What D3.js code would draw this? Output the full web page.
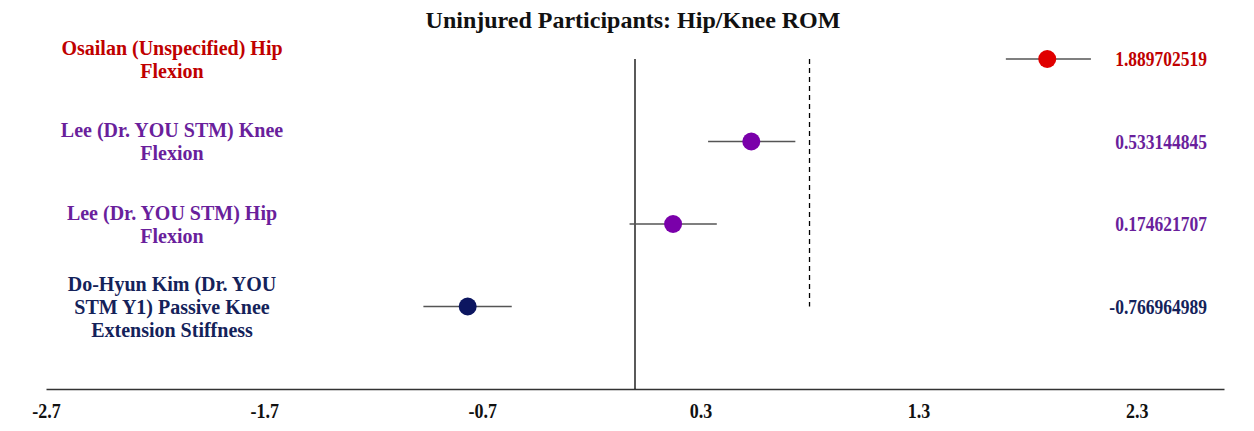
<!DOCTYPE html>
<html>
<head>
<meta charset="utf-8">
<script src="https://cdn.jsdelivr.net/npm/d3@7"></script>
<style>
html,body{margin:0;padding:0;background:#fff;}
svg{display:block;}
</style>
</head>
<body>
<script>
const chartTitle = "Uninjured Participants: Hip/Knee ROM";
const studyLabels = [
  ["Osailan (Unspecified) Hip", "Flexion"],
  ["Lee (Dr. YOU STM) Knee", "Flexion"],
  ["Lee (Dr. YOU STM) Hip", "Flexion"],
  ["Do-Hyun Kim (Dr. YOU", "STM Y1) Passive Knee", "Extension Stiffness"]
];
const effectSizes = [1.889702519, 0.533144845, 0.174621707, -0.766964989];
const valueLabels = ["1.889702519", "0.533144845", "0.174621707", "-0.766964989"];
const ciLower = [1.70, 0.335, -0.025, -0.97];
const ciUpper = [2.09, 0.735, 0.375, -0.565];
const rowPositions = [4, 3, 2, 1];
const tickValues = [-2.7, -1.7, -0.7, 0.3, 1.3, 2.3];
const tickLabels = ["-2.7", "-1.7", "-0.7", "0.3", "1.3", "2.3"];
const nullEffect = 0;
const largeEffect = 0.8;

const textColors = ["#c00000", "#6a1f9c", "#6a1f9c", "#14225a"];
const dotColors = ["#e00000", "#7a00aa", "#7a00aa", "#0c1660"];

const W = 1254, H = 431;
const svg = d3.select("body").append("svg").attr("width", W).attr("height", H);
const font = "'Liberation Serif','Times New Roman',serif";

const x = d3.scaleLinear().domain([-2.7, 2.7]).range([46, 1224]);
const y = d3.scaleLinear().domain([0, 4]).range([389, 59]);

// title
svg.append("text").attr("x", 633).attr("y", 28)
  .attr("text-anchor", "middle").attr("font-family", font)
  .attr("font-weight", "bold").attr("font-size", 24).attr("fill", "#111")
  .text(chartTitle);

// axis
const axis = d3.axisBottom(x).tickValues(tickValues)
  .tickFormat((d, i) => tickLabels[i]).tickSize(0);
const gAxis = svg.append("g").attr("transform", `translate(0,${y(0)})`).call(axis);
gAxis.select(".domain").attr("stroke", "#333").attr("stroke-width", 1.6);
gAxis.selectAll("text").attr("y", 0).attr("dy", 0)
  .attr("transform", "translate(0,29) scale(1,1.12)")
  .attr("font-family", font).attr("font-weight", "bold")
  .attr("font-size", 18).attr("fill", "#111");

// reference lines
svg.append("line").attr("x1", x(nullEffect)).attr("x2", x(nullEffect))
  .attr("y1", y(4)).attr("y2", y(0)).attr("stroke", "#000").attr("stroke-width", 1.3);
svg.append("line").attr("x1", x(largeEffect)).attr("x2", x(largeEffect))
  .attr("y1", y(4)).attr("y2", y(1)).attr("stroke", "#000").attr("stroke-width", 1.3)
  .attr("stroke-dasharray", "5,4");

// error bars
svg.selectAll(".ci").data(effectSizes).enter().append("line")
  .attr("x1", (d, i) => x(ciLower[i])).attr("x2", (d, i) => x(ciUpper[i]))
  .attr("y1", (d, i) => y(rowPositions[i])).attr("y2", (d, i) => y(rowPositions[i]))
  .attr("stroke", "#555").attr("stroke-width", 1.3);

// points
svg.selectAll(".pt").data(effectSizes).enter().append("circle")
  .attr("cx", d => x(d)).attr("cy", (d, i) => y(rowPositions[i]))
  .attr("r", 9).attr("fill", (d, i) => dotColors[i]);

// left labels
const lineH = 23;
studyLabels.forEach((lines, i) => {
  const cy = y(rowPositions[i]);
  const startY = cy - (lines.length - 1) * lineH / 2 + 7;
  const t = svg.append("text").attr("text-anchor", "middle")
    .attr("font-family", font).attr("font-weight", "bold").attr("font-size", 20)
    .attr("fill", textColors[i]);
  lines.forEach((ln, j) => {
    t.append("tspan").attr("x", 172).attr("y", startY + j * lineH).text(ln);
  });
});

// right value labels
svg.selectAll(".val").data(valueLabels).enter().append("text")
  .attr("transform", (d, i) => `translate(1207,${y(rowPositions[i]) + 7}) scale(1,1.15)`)
  .attr("text-anchor", "end").attr("font-family", font).attr("font-weight", "bold")
  .attr("font-size", 17.5).attr("fill", (d, i) => textColors[i])
  .text(d => d);
</script>
</body>
</html>
